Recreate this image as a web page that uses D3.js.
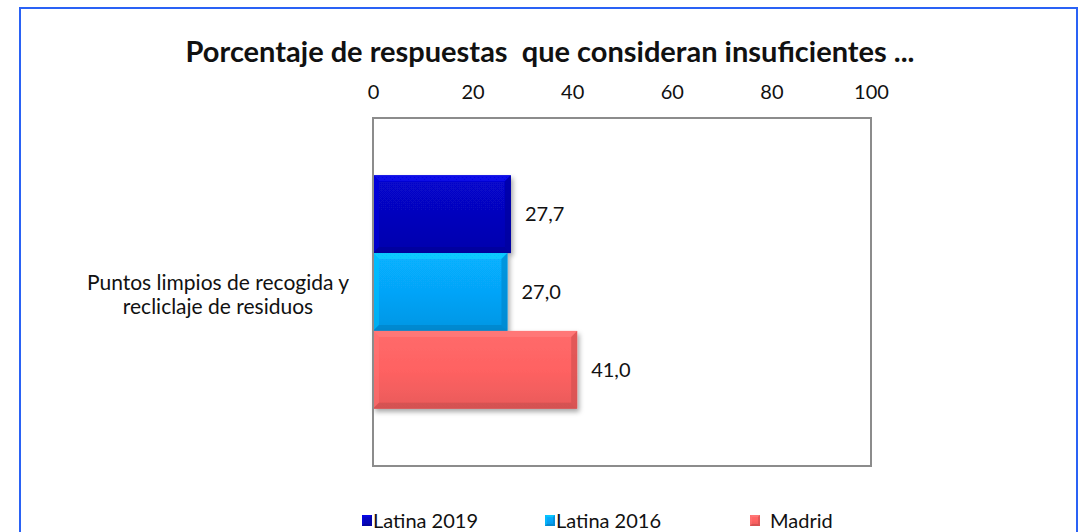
<!DOCTYPE html>
<html>
<head>
<meta charset="utf-8">
<script src="https://cdn.jsdelivr.net/npm/d3@7"></script>
<style>
  body { margin: 0; background: #fff; }
  svg { display: block; font-family: Lato, "Open Sans", sans-serif; }
</style>
</head>
<body>
<svg width="1079" height="532"></svg>
<script>
// data
const categories = ["Puntos limpios de recogida y\nrecliclaje de residuos"];
const series = ["Latina 2019", "Latina 2016", "Madrid"];
const values = [27.7, 27.0, 41.0];
const colors = ["#0606bd", "#06a4f8", "#ff6262"];
const xTicks = [0, 20, 40, 60, 80, 100];
const title = "Porcentaje de respuestas\u00a0 que consideran insuficientes ...";

const svg = d3.select("svg");
const plot = {l: 373, r: 871, t: 118, b: 466};

// outer frame
svg.append("rect")
    .attr("x", 20).attr("y", 8)
    .attr("width", 1057).attr("height", 540)
    .attr("fill", "#fff")
    .attr("stroke", "#2a62f5")
    .attr("stroke-width", 2);

svg.append("text")
    .attr("x", 550).attr("y", 62)
    .attr("text-anchor", "middle")
    .attr("font-size", 29)
    .attr("font-weight", "bold")
    .attr("fill", "#111")
    .text(title);

var defs = svg.append("defs");
var shadow = defs.append("filter").attr("id", "shadow")
    .attr("x", "-10%").attr("y", "-10%").attr("width", "130%").attr("height", "140%");
shadow.append("feDropShadow")
    .attr("dx", 2).attr("dy", 3).attr("stdDeviation", 2.5)
    .attr("flood-color", "#000").attr("flood-opacity", 0.35);

colors.forEach(function(c, i) {
    var g = defs.append("linearGradient").attr("id", "grad" + i)
        .attr("x1", 0).attr("y1", 0).attr("x2", 0).attr("y2", 1);
    g.append("stop").attr("offset", "0%").attr("stop-color", d3.color(c).brighter(0.25));
    g.append("stop").attr("offset", "50%").attr("stop-color", c);
    g.append("stop").attr("offset", "100%").attr("stop-color", d3.color(c).darker(0.25));
});

// scales
const x = d3.scaleLinear().domain([0, 100]).range([plot.l, plot.r]);
const y = d3.scaleBand().domain(categories).range([plot.t, plot.b]);
const ySeries = d3.scaleBand().domain(series)
    .range([0, y.bandwidth()])
    .paddingOuter(0.737).paddingInner(0);

// plot area border
svg.append("rect")
    .attr("x", plot.l).attr("y", plot.t)
    .attr("width", plot.r - plot.l).attr("height", plot.b - plot.t)
    .attr("fill", "#fff")
    .attr("stroke", "#8c8c8c")
    .attr("stroke-width", 2);

// top axis, labels only
var xAxis = d3.axisTop(x).tickValues(xTicks).tickSize(0).tickPadding(19);
var xAxisG = svg.append("g")
    .attr("transform", `translate(0,${plot.t})`)
    .call(xAxis);
xAxisG.select(".domain").remove();
xAxisG.selectAll("text")
    .attr("font-size", 20)
    .attr("font-family", "Lato, sans-serif")
    .attr("fill", "#111");

// category label
categories.forEach(function(cat) {
    var lines = cat.split("\n");
    var cy = y(cat) + y.bandwidth() / 2;
    var t = svg.append("text")
        .attr("text-anchor", "middle")
        .attr("font-size", 21)
        .attr("fill", "#111");
    lines.forEach(function(l, i) {
        t.append("tspan")
            .attr("x", 218)
            .attr("y", cy + 10 + (i - (lines.length - 1) / 2) * 24)
            .text(l);
    });
});

// bars with a bevel look
function bevelBar(g, x0, y0, w, h, c, gradId, b) {
    g.append("rect")
        .attr("x", x0).attr("y", y0).attr("width", w).attr("height", h)
        .attr("fill", "url(#" + gradId + ")");
    var light = d3.color(c).brighter(0.6);
    var dark = d3.color(c).darker(0.6);
    g.append("path")
        .attr("d", `M${x0},${y0}L${x0 + w},${y0}L${x0 + w - b},${y0 + b}L${x0 + b},${y0 + b}Z`)
        .attr("fill", light).attr("opacity", 0.85);
    g.append("path")
        .attr("d", `M${x0},${y0}L${x0 + b},${y0 + b}L${x0 + b},${y0 + h - b}L${x0},${y0 + h}Z`)
        .attr("fill", light).attr("opacity", 0.45);
    g.append("path")
        .attr("d", `M${x0 + w},${y0}L${x0 + w},${y0 + h}L${x0 + w - b},${y0 + h - b}L${x0 + w - b},${y0 + b}Z`)
        .attr("fill", dark).attr("opacity", 0.6);
    g.append("path")
        .attr("d", `M${x0},${y0 + h}L${x0 + w},${y0 + h}L${x0 + w - b},${y0 + h - b}L${x0 + b},${y0 + h - b}Z`)
        .attr("fill", dark).attr("opacity", 0.75);
}

categories.forEach(function(cat) {
    series.forEach(function(s, i) {
        var by = y(cat) + ySeries(s);
        var g = svg.append("g").attr("filter", "url(#shadow)");
        bevelBar(g, x(0), by, x(values[i]) - x(0), ySeries.bandwidth(), colors[i], "grad" + i, 6);
        svg.append("text")
            .attr("x", x(values[i]) + 14)
            .attr("y", by + ySeries.bandwidth() / 2 + 7)
            .attr("font-size", 20)
            .attr("fill", "#111")
            .text(d3.format(".1f")(values[i]).replace(".", ","));
    });
});

// redraw left axis edge over the bar shadows
svg.append("line")
    .attr("x1", plot.l).attr("x2", plot.l)
    .attr("y1", plot.t).attr("y2", plot.b)
    .attr("stroke", "#8c8c8c").attr("stroke-width", 2);

// legend
const legendX = [362, 545, 750];
const legendTextX = [373, 556, 770];
const legendY = 521;
series.forEach(function(s, i) {
    var g = svg.append("g");
    bevelBar(g, legendX[i], legendY - 6, 10, 11, colors[i], "grad" + i, 2);
    svg.append("text")
        .attr("x", legendTextX[i])
        .attr("y", legendY + 7)
        .attr("font-size", 20)
        .attr("fill", "#111")
        .text(s);
});
</script>
</body>
</html>
